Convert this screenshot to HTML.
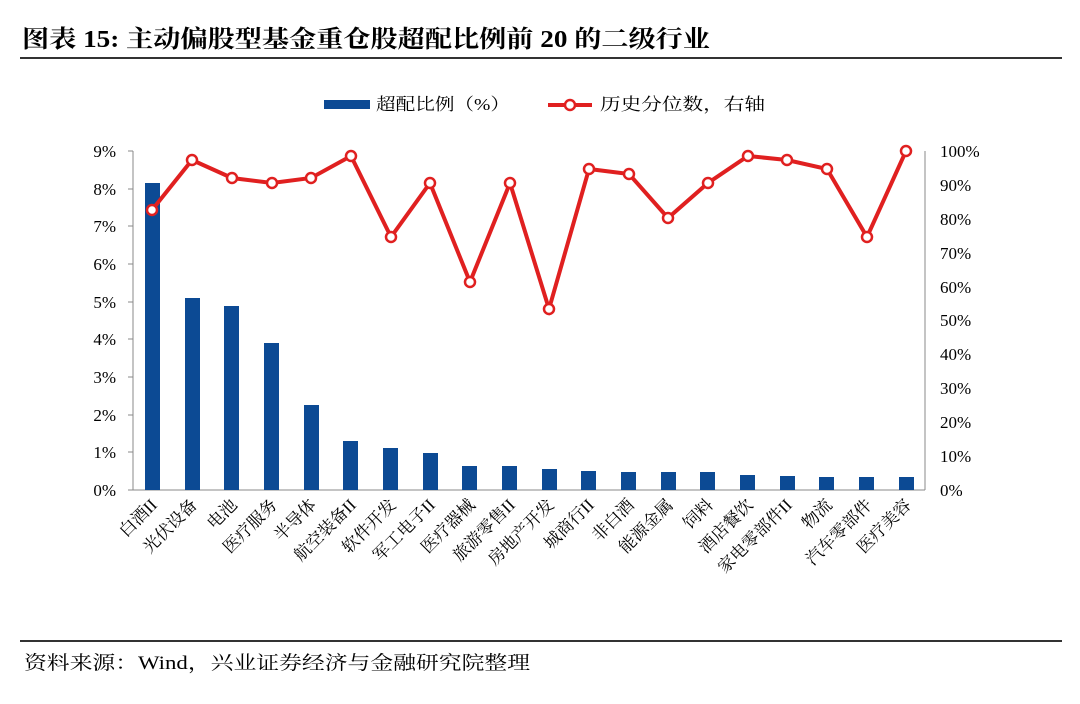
<!DOCTYPE html>
<html><head><meta charset="utf-8"><style>
body{margin:0;background:#fff;}
svg text{font-family:"Liberation Serif","Noto Serif CJK SC",serif;}
</style></head><body>
<svg width="1080" height="699" xmlns="http://www.w3.org/2000/svg">
<text x="22" y="47" font-size="24" font-weight="bold" fill="#000" textLength="688" lengthAdjust="spacingAndGlyphs">图表 15:  主动偏股型基金重仓股超配比例前 20 的二级行业</text>
<line x1="20" y1="58" x2="1062" y2="58" stroke="#333" stroke-width="2"/>
<line x1="20" y1="641" x2="1062" y2="641" stroke="#333" stroke-width="2"/>
<text x="24" y="669" font-size="19" fill="#000" textLength="506" lengthAdjust="spacingAndGlyphs">资料来源：Wind，兴业证券经济与金融研究院整理</text>
<rect x="324" y="100" width="46" height="9" fill="#0c4a94"/>
<text x="376" y="110" font-size="17" textLength="134" lengthAdjust="spacingAndGlyphs">超配比例（%）</text>
<line x1="548" y1="105" x2="592" y2="105" stroke="#e02020" stroke-width="4"/>
<circle cx="570" cy="105" r="5" fill="#fff" stroke="#e02020" stroke-width="2.5"/>
<text x="600" y="110" font-size="17" textLength="165" lengthAdjust="spacingAndGlyphs">历史分位数，右轴</text>
<line x1="133" y1="151" x2="133" y2="490" stroke="#888"/>
<line x1="925" y1="151" x2="925" y2="490" stroke="#888"/>
<line x1="133" y1="490" x2="925" y2="490" stroke="#888"/>
<g font-size="17" text-anchor="end">
<text x="116" y="157">9%</text><text x="116" y="195">8%</text><text x="116" y="232">7%</text><text x="116" y="270">6%</text><text x="116" y="308">5%</text><text x="116" y="345">4%</text><text x="116" y="383">3%</text><text x="116" y="421">2%</text><text x="116" y="458">1%</text><text x="116" y="496">0%</text>
</g>
<g font-size="17">
<text x="940" y="157">100%</text><text x="940" y="191">90%</text><text x="940" y="225">80%</text><text x="940" y="259">70%</text><text x="940" y="293">60%</text><text x="940" y="326">50%</text><text x="940" y="360">40%</text><text x="940" y="394">30%</text><text x="940" y="428">20%</text><text x="940" y="462">10%</text><text x="940" y="496">0%</text>
</g>
<g stroke="#888">
<line x1="128" y1="151" x2="133" y2="151"/><line x1="128" y1="189" x2="133" y2="189"/><line x1="128" y1="226" x2="133" y2="226"/><line x1="128" y1="264" x2="133" y2="264"/><line x1="128" y1="302" x2="133" y2="302"/><line x1="128" y1="339" x2="133" y2="339"/><line x1="128" y1="377" x2="133" y2="377"/><line x1="128" y1="415" x2="133" y2="415"/><line x1="128" y1="452" x2="133" y2="452"/><line x1="128" y1="490" x2="133" y2="490"/>
</g>
<g fill="#0c4a94">
<rect x="145" y="183" width="15" height="307"/>
<rect x="185" y="298" width="15" height="192"/>
<rect x="224" y="306" width="15" height="184"/>
<rect x="264" y="343" width="15" height="147"/>
<rect x="304" y="405" width="15" height="85"/>
<rect x="343" y="441" width="15" height="49"/>
<rect x="383" y="448" width="15" height="42"/>
<rect x="423" y="453" width="15" height="37"/>
<rect x="462" y="466" width="15" height="24"/>
<rect x="502" y="466" width="15" height="24"/>
<rect x="542" y="469" width="15" height="21"/>
<rect x="581" y="471" width="15" height="19"/>
<rect x="621" y="472" width="15" height="18"/>
<rect x="661" y="472" width="15" height="18"/>
<rect x="700" y="472" width="15" height="18"/>
<rect x="740" y="475" width="15" height="15"/>
<rect x="780" y="476" width="15" height="14"/>
<rect x="819" y="477" width="15" height="13"/>
<rect x="859" y="477" width="15" height="13"/>
<rect x="899" y="477" width="15" height="13"/>
</g>
<polyline fill="none" stroke="#e02020" stroke-width="4" points="152,210 192,160 232,178 272,183 311,178 351,156 391,237 430,183 470,282 510,183 549,309 589,169 629,174 668,218 708,183 748,156 787,160 827,169 867,237 906,151"/>
<g fill="#fff" stroke="#e02020" stroke-width="2.5">
<circle cx="152" cy="210" r="5"/><circle cx="192" cy="160" r="5"/><circle cx="232" cy="178" r="5"/><circle cx="272" cy="183" r="5"/><circle cx="311" cy="178" r="5"/><circle cx="351" cy="156" r="5"/><circle cx="391" cy="237" r="5"/><circle cx="430" cy="183" r="5"/><circle cx="470" cy="282" r="5"/><circle cx="510" cy="183" r="5"/><circle cx="549" cy="309" r="5"/><circle cx="589" cy="169" r="5"/><circle cx="629" cy="174" r="5"/><circle cx="668" cy="218" r="5"/><circle cx="708" cy="183" r="5"/><circle cx="748" cy="156" r="5"/><circle cx="787" cy="160" r="5"/><circle cx="827" cy="169" r="5"/><circle cx="867" cy="237" r="5"/><circle cx="906" cy="151" r="5"/>
</g>
<g font-size="17" text-anchor="end">
<text transform="translate(158,506) rotate(-45)">白酒II</text>
<text transform="translate(198,506) rotate(-45)">光伏设备</text>
<text transform="translate(238,506) rotate(-45)">电池</text>
<text transform="translate(278,506) rotate(-45)">医疗服务</text>
<text transform="translate(317,506) rotate(-45)">半导体</text>
<text transform="translate(357,506) rotate(-45)">航空装备II</text>
<text transform="translate(397,506) rotate(-45)">软件开发</text>
<text transform="translate(436,506) rotate(-45)">军工电子II</text>
<text transform="translate(476,506) rotate(-45)">医疗器械</text>
<text transform="translate(516,506) rotate(-45)">旅游零售II</text>
<text transform="translate(555,506) rotate(-45)">房地产开发</text>
<text transform="translate(595,506) rotate(-45)">城商行II</text>
<text transform="translate(635,506) rotate(-45)">非白酒</text>
<text transform="translate(674,506) rotate(-45)">能源金属</text>
<text transform="translate(714,506) rotate(-45)">饲料</text>
<text transform="translate(754,506) rotate(-45)">酒店餐饮</text>
<text transform="translate(793,506) rotate(-45)">家电零部件II</text>
<text transform="translate(833,506) rotate(-45)">物流</text>
<text transform="translate(873,506) rotate(-45)">汽车零部件</text>
<text transform="translate(912,506) rotate(-45)">医疗美容</text>
</g>
</svg>
</body></html>
